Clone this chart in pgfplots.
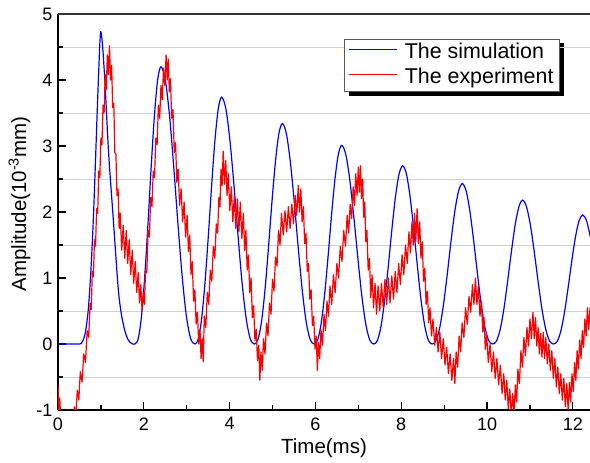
\documentclass[border=0pt]{standalone}
\usepackage{fontspec}
\setmainfont{Liberation Sans}
\usepackage{pgfplots}
\pgfplotsset{compat=1.18}
\pgfdeclarelayer{background}
\pgfsetlayers{background,main}

\begin{document}
\begin{tikzpicture}
\useasboundingbox (-58pt,-53pt) rectangle (532pt,410pt);
\begin{axis}[
  at={(0pt,0pt)}, anchor=south west,
  scale only axis, width=532pt, height=396pt,
  xmin=0, xmax=12.4, ymin=-1, ymax=5,
  axis x line*=bottom, axis y line*=left,
  axis line style={-, line width=1.4pt, black},
  clip mode=individual,
  xtick={0,2,...,12}, ytick={-1,0,...,5},
  minor x tick num=1, minor y tick num=1,
  tick align=inside,
  major tick length=8pt, minor tick length=5pt,
  tick style={black, line width=1.2pt},
  yminorgrids=true,
  minor grid style={draw=black!18, line width=0.9pt},
  /pgf/number format/assume math mode=true,
  tick label style={font=\fontsize{18}{18}\selectfont},
  xticklabel style={yshift=-4pt},
  yticklabel style={xshift=-2pt},
  xlabel={Time(ms)},
  ylabel={Amplitude(10\textsuperscript{-3}mm)},
  every axis x label/.style={at={(axis description cs:0.5,-0.096)}, anchor=center, font=\fontsize{20.5}{24}\selectfont},
  every axis y label/.style={at={(axis description cs:-0.0724,0.52)}, anchor=center, rotate=90, font=\fontsize{20.5}{24}\selectfont},
  legend style={name=leg, at={(axis description cs:0.538,0.937)}, anchor=north west,
    draw=black!65, line width=0.8pt, fill=white,
    font=\fontsize{21.4}{25}\selectfont,
    inner xsep=4pt, inner ysep=1.3pt, row sep=1.4pt,
    /tikz/every odd column/.append style={column sep=5pt},
    nodes={inner sep=2pt, text height=15.5pt, text depth=4.5pt}},
  legend cell align=left,
  legend image code/.code={\draw[#1] (0pt,0.35em) -- (48pt,0.35em);},
]
\addplot[blue, line width=1.2pt, smooth] coordinates {
(0,0)(0.50,0)(0.55,0.02)(0.60,0.08)(0.65,0.22)(0.71,0.55)(0.77,1.15)(0.823,1.88)(0.87,2.7)(0.91,3.45)(0.95,4.15)(0.975,4.55)(0.995,4.73)(1.02,4.65)(1.05,4.42)(1.10,3.90)(1.18,2.89)(1.29,1.88)(1.40,0.87)(1.47,0.48)(1.55,0.22)(1.63,0.07)(1.71,0.01)(1.795,0)
(1.871,0.083)(1.946,0.419)(2.022,1.025)(2.098,1.828)(2.173,2.697)(2.249,3.473)(2.324,4.009)(2.40,4.20)
(2.499,4.009)(2.598,3.473)(2.696,2.697)(2.795,1.828)(2.894,1.025)(2.993,0.419)(3.091,0.083)(3.19,0)
(3.268,0.074)(3.346,0.373)(3.424,0.913)(3.503,1.628)(3.581,2.402)(3.659,3.093)(3.737,3.570)(3.815,3.74)
(3.911,3.570)(4.006,3.093)(4.102,2.402)(4.198,1.628)(4.293,0.913)(4.389,0.373)(4.484,0.074)(4.58,0)
(4.661,0.066)(4.743,0.333)(4.824,0.815)(4.905,1.454)(4.986,2.145)(5.068,2.762)(5.149,3.188)(5.23,3.34)
(5.323,3.188)(5.415,2.762)(5.508,2.145)(5.60,1.454)(5.693,0.815)(5.785,0.333)(5.878,0.066)(5.97,0)
(6.051,0.060)(6.131,0.300)(6.212,0.734)(6.293,1.310)(6.373,1.933)(6.454,2.489)(6.534,2.873)(6.615,3.01)
(6.708,2.873)(6.801,2.489)(6.894,1.933)(6.988,1.310)(7.081,0.734)(7.174,0.300)(7.267,0.060)(7.36,0)
(7.444,0.053)(7.529,0.269)(7.613,0.659)(7.698,1.175)(7.782,1.734)(7.866,2.233)(7.951,2.577)(8.035,2.70)
(8.121,2.577)(8.206,2.233)(8.292,1.734)(8.378,1.175)(8.463,0.659)(8.549,0.269)(8.634,0.053)(8.72,0)
(8.808,0.048)(8.896,0.242)(8.984,0.593)(9.073,1.058)(9.161,1.561)(9.249,2.010)(9.337,2.319)(9.425,2.43)
(9.513,2.319)(9.601,2.010)(9.689,1.561)(9.778,1.058)(9.866,0.593)(9.954,0.242)(10.042,0.048)(10.13,0)
(10.218,0.043)(10.305,0.217)(10.393,0.532)(10.48,0.949)(10.568,1.400)(10.655,1.803)(10.743,2.081)(10.83,2.18)
(10.92,2.081)(11.01,1.803)(11.10,1.400)(11.19,0.949)(11.28,0.532)(11.37,0.217)(11.46,0.043)(11.55,0)
(11.635,0.039)(11.72,0.195)(11.805,0.477)(11.89,0.851)(11.975,1.255)(12.06,1.617)(12.145,1.866)(12.23,1.955)
(12.32,1.866)(12.41,1.617)
};
\addlegendentry{The simulation}
\addplot[red, line width=1.2pt, line join=round] coordinates {
(0.00,-0.62)(0.02,-1.0)(0.04,-0.82)(0.07,-1.2)(0.10,-1.02)(0.15,-1.35)(0.20,-1.12)(0.25,-1.35)(0.30,-1.02)(0.34,-1.25)
(0.38,-0.95)(0.415,-1.1)(0.45,-0.70)(0.485,-0.85)(0.52,-0.42)(0.56,-0.58)(0.60,-0.15)(0.64,-0.28)(0.68,0.20)(0.715,0.10)
(0.75,0.62)(0.775,0.52)(0.80,1.10)(0.825,1.02)(0.85,1.58)(0.875,1.48)(0.90,2.05)(0.925,1.98)(0.95,2.62)(0.975,2.52)
(1.00,3.12)(1.025,3.02)(1.05,3.62)(1.075,3.50)(1.10,4.08)(1.125,3.86)(1.15,4.38)(1.175,4.08)(1.20,4.52)(1.225,4.0)
(1.25,4.22)(1.275,3.58)(1.30,3.65)(1.325,2.9)(1.35,2.88)(1.375,2.25)(1.40,2.35)(1.425,1.75)(1.45,1.98)(1.485,1.42)
(1.52,1.80)(1.555,1.30)(1.59,1.72)(1.625,1.22)(1.66,1.58)(1.695,1.05)(1.73,1.42)(1.765,0.92)(1.80,1.25)(1.835,0.78)
(1.87,1.08)(1.90,0.62)(1.93,0.90)(1.96,0.50)(1.99,0.78)(2.015,0.60)(2.04,1.12)(2.07,1.08)(2.10,1.72)(2.13,1.62)
(2.16,2.22)(2.19,2.08)(2.22,2.62)(2.25,2.52)(2.28,3.12)(2.31,3.02)(2.34,3.62)(2.37,3.42)(2.40,3.92)(2.43,3.70)
(2.46,4.18)(2.49,3.92)(2.52,4.38)(2.545,4.00)(2.57,4.32)(2.595,3.82)(2.62,4.02)(2.65,3.42)(2.68,3.55)(2.71,2.90)
(2.74,3.05)(2.77,2.45)(2.80,2.65)(2.835,2.10)(2.87,2.35)(2.905,1.85)(2.94,2.15)(2.975,1.62)(3.01,1.95)(3.04,1.40)
(3.07,1.65)(3.10,1.05)(3.13,1.25)(3.16,0.65)(3.19,0.82)(3.22,0.30)(3.25,0.48)(3.28,0.0)(3.31,0.22)(3.335,-0.22)
(3.36,0.08)(3.385,-0.27)(3.41,0.42)(3.445,0.25)(3.48,0.78)(3.515,0.60)(3.55,1.12)(3.585,0.95)(3.62,1.48)(3.655,1.30)
(3.69,1.82)(3.72,1.68)(3.75,2.22)(3.775,2.08)(3.80,2.65)(3.825,2.40)(3.85,2.92)(3.88,2.42)(3.91,2.78)(3.94,2.25)
(3.97,2.58)(4.005,2.02)(4.04,2.38)(4.075,1.85)(4.11,2.25)(4.145,1.75)(4.18,2.20)(4.215,1.70)(4.25,2.15)(4.285,1.60)
(4.32,1.98)(4.35,1.42)(4.38,1.72)(4.41,1.12)(4.44,1.35)(4.47,0.78)(4.50,1.00)(4.53,0.40)(4.56,0.58)(4.59,0.05)
(4.62,0.22)(4.65,-0.25)(4.68,-0.02)(4.705,-0.55)(4.73,-0.12)(4.76,-0.40)(4.79,0.08)(4.825,-0.15)(4.86,0.32)(4.895,0.12)
(4.93,0.62)(4.965,0.45)(5.00,0.98)(5.035,0.80)(5.07,1.32)(5.105,1.18)(5.14,1.72)(5.175,1.50)(5.21,1.98)(5.25,1.65)
(5.29,2.02)(5.33,1.70)(5.37,2.08)(5.41,1.75)(5.45,2.12)(5.49,1.82)(5.53,2.25)(5.565,1.95)(5.60,2.40)(5.63,2.0)
(5.66,2.35)(5.69,1.85)(5.72,2.08)(5.75,1.52)(5.78,1.68)(5.81,1.10)(5.84,1.22)(5.87,0.68)(5.90,0.82)(5.93,0.28)
(5.96,0.42)(5.99,-0.08)(6.02,0.12)(6.045,-0.40)(6.07,0.02)(6.10,-0.22)(6.13,0.22)(6.165,-0.02)(6.20,0.45)(6.235,0.20)
(6.27,0.65)(6.305,0.42)(6.34,0.88)(6.38,0.60)(6.42,1.05)(6.46,0.78)(6.50,1.22)(6.54,1.0)(6.58,1.48)(6.62,1.25)
(6.66,1.72)(6.70,1.48)(6.74,1.95)(6.775,1.68)(6.81,2.12)(6.845,1.90)(6.88,2.38)(6.91,2.10)(6.94,2.58)(6.97,2.25)
(7.00,2.68)(7.025,2.30)(7.05,2.70)(7.075,2.20)(7.10,2.50)(7.125,1.92)(7.15,2.15)(7.175,1.55)(7.20,1.72)(7.23,1.12)
(7.26,1.30)(7.29,0.70)(7.32,1.05)(7.355,0.55)(7.39,0.92)(7.425,0.45)(7.46,0.88)(7.50,0.50)(7.54,0.92)(7.58,0.55)
(7.62,0.98)(7.66,0.60)(7.70,1.00)(7.74,0.62)(7.78,1.03)(7.82,0.68)(7.86,1.10)(7.90,0.78)(7.94,1.22)(7.98,0.90)
(8.02,1.35)(8.06,1.05)(8.10,1.50)(8.14,1.22)(8.18,1.70)(8.215,1.38)(8.25,1.85)(8.28,1.50)(8.31,1.98)(8.34,1.55)
(8.37,2.05)(8.40,1.52)(8.43,1.85)(8.46,1.30)(8.49,1.55)(8.52,0.95)(8.55,1.15)(8.58,0.60)(8.61,0.80)(8.64,0.32)
(8.67,0.55)(8.705,0.12)(8.74,0.38)(8.78,-0.02)(8.82,0.25)(8.86,-0.12)(8.90,0.18)(8.94,-0.22)(8.98,0.08)(9.02,-0.32)
(9.06,-0.05)(9.10,-0.45)(9.14,-0.15)(9.18,-0.55)(9.22,-0.22)(9.25,-0.60)(9.28,-0.12)(9.315,-0.35)(9.35,0.12)(9.385,-0.12)
(9.42,0.32)(9.46,0.10)(9.50,0.55)(9.54,0.30)(9.58,0.72)(9.62,0.48)(9.66,0.90)(9.695,0.60)(9.73,1.00)(9.765,0.60)
(9.80,0.88)(9.835,0.42)(9.87,0.65)(9.90,0.18)(9.93,0.40)(9.96,-0.08)(9.99,0.15)(10.03,-0.28)(10.07,0.0)(10.11,-0.42)
(10.15,-0.12)(10.19,-0.52)(10.23,-0.22)(10.27,-0.62)(10.31,-0.32)(10.35,-0.75)(10.39,-0.45)(10.425,-0.85)(10.46,-0.55)(10.495,-0.98)
(10.53,-0.68)(10.565,-1.08)(10.60,-0.75)(10.63,-1.05)(10.66,-0.62)(10.69,-0.88)(10.72,-0.38)(10.755,-0.60)(10.79,-0.10)(10.825,-0.35)
(10.86,0.10)(10.895,-0.18)(10.93,0.25)(10.965,-0.03)(11.00,0.38)(11.035,0.08)(11.07,0.48)(11.10,0.08)(11.13,0.40)(11.16,-0.03)
(11.19,0.25)(11.22,-0.15)(11.25,0.16)(11.28,-0.20)(11.31,0.18)(11.34,-0.22)(11.37,0.10)(11.405,-0.30)(11.44,0.0)(11.475,-0.40)
(11.51,-0.10)(11.545,-0.52)(11.58,-0.22)(11.615,-0.65)(11.65,-0.35)(11.685,-0.75)(11.72,-0.45)(11.755,-0.85)(11.79,-0.52)(11.825,-0.95)
(11.86,-0.60)(11.89,-1.0)(11.92,-0.58)(11.95,-0.88)(11.98,-0.45)(12.01,-0.72)(12.04,-0.28)(12.07,-0.55)(12.10,-0.10)(12.13,-0.38)
(12.16,0.06)(12.19,-0.22)(12.22,0.20)(12.25,-0.05)(12.28,0.38)(12.31,0.12)(12.34,0.55)(12.37,0.22)(12.40,0.55)(12.42,0.30)
};
\addlegendentry{The experiment}
\draw[line width=1.4pt, black!80] (axis description cs:0,1) -- (axis description cs:1.02,1);
\end{axis}
\begin{pgfonlayer}{background}
\fill[black] ([shift={(4.5pt,-4.5pt)}]leg.south west) rectangle ([shift={(4.5pt,-4.5pt)}]leg.north east);
\end{pgfonlayer}
\end{tikzpicture}
\end{document}
